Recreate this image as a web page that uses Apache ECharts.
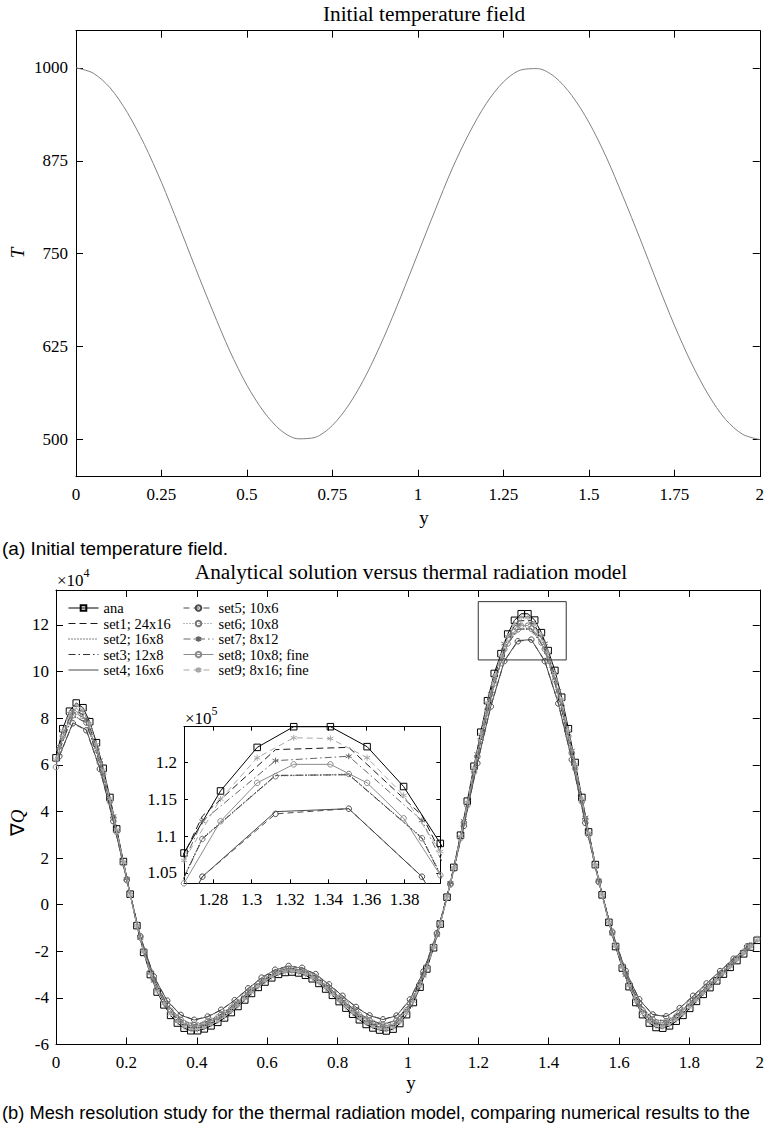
<!DOCTYPE html>
<html>
<head>
<meta charset="utf-8">
<script src="https://cdn.jsdelivr.net/npm/echarts@6/dist/echarts.min.js"></script>
<style>
html,body{margin:0;padding:0;background:#fff;}
#c{width:767px;height:1133px;}
</style>
</head>
<body>
<div id="c"></div>
<script>
// ---------- DATA ----------
// (a) initial temperature field
const topY = [0,0.05,0.1,0.15,0.2,0.25,0.3,0.35,0.4,0.45,0.5,0.55,0.6,0.65,0.7,0.75,0.8,0.85,0.9,0.95,1,1.05,1.1,1.15,1.2,1.25,1.3,1.35,1.4,1.45,1.5,1.55,1.6,1.65,1.7,1.75,1.8,1.85,1.9,1.95,2];
const topT = [1000,993,973,940,897,846,789,730,673,619,573,537,512,501,503,519,548,588,637,692,750,808,864,912,952,981,997,999,988,963,927,881,827,770,711,654,603,560,527,507,500];
const topXTicks = [0,0.25,0.5,0.75,1,1.25,1.5,1.75,2];
const topTTicks = [500,625,750,875,1000];

// (b) divergence of radiative flux, units of 1e4
const yFine = [0,0.0192,0.0383,0.0575,0.0766,0.0958,0.1150,0.1341,0.1533,0.1724,
0.1916,0.2108,0.2299,0.2491,0.2682,0.2874,0.3066,0.3257,0.3449,0.3640,
0.3832,0.4024,0.4215,0.4407,0.4598,0.4790,0.4982,0.5173,0.5365,0.5556,
0.5748,0.5940,0.6131,0.6323,0.6514,0.6706,0.6898,0.7089,0.7281,0.7472,
0.7664,0.7856,0.8047,0.8239,0.8430,0.8622,0.8814,0.9005,0.9197,0.9388,
0.9580,0.9772,0.9963,1.0155,1.0346,1.0538,1.0730,1.0921,1.1113,1.1304,
1.1496,1.1688,1.1879,1.2071,1.2262,1.2454,1.2646,1.2837,1.3029,1.3220,
1.3412,1.3604,1.3795,1.3987,1.4178,1.4370,1.4562,1.4753,1.4945,1.5136,
1.5328,1.5520,1.5711,1.5903,1.6094,1.6286,1.6478,1.6669,1.6861,1.7052,
1.7244,1.7436,1.7627,1.7819,1.8010,1.8202,1.8394,1.8585,1.8777,1.8968,
1.9160,1.9352,1.9543,1.9735,1.9926];
const yCoarse = [0.0096,0.0479,0.0862,0.1246,0.1629,0.2012,0.2395,0.2778,0.3162,0.3545,
0.3928,0.4311,0.4694,0.5078,0.5461,0.5844,0.6227,0.6610,0.6994,0.7377,
0.7760,0.8143,0.8526,0.8910,0.9293,0.9676,1.0059,1.0442,1.0826,1.1209,
1.1592,1.1975,1.2358,1.2742,1.3125,1.3508,1.3891,1.4274,1.4658,1.5041,
1.5424,1.5807,1.6190,1.6574,1.6957,1.7340,1.7723,1.8106,1.8490,1.8873,
1.9256,1.9639];

const anaQ = [6.30,7.55,8.30,8.65,8.45,7.85,6.95,5.85,4.60,3.25,
1.85,0.45,-0.90,-2.05,-3.00,-3.75,-4.30,-4.75,-5.08,-5.30,
-5.41,-5.41,-5.33,-5.20,-5.05,-4.86,-4.63,-4.37,-4.09,-3.81,
-3.55,-3.32,-3.14,-2.99,-2.91,-2.89,-2.93,-3.03,-3.18,-3.38,
-3.62,-3.89,-4.16,-4.44,-4.70,-4.94,-5.14,-5.29,-5.38,-5.42,
-5.34,-5.10,-4.72,-4.20,-3.54,-2.76,-1.85,-0.83,0.32,1.60,
2.98,4.44,5.94,7.40,8.75,9.92,10.77,11.61,12.20,12.48,
12.48,12.21,11.67,10.90,10.05,8.90,7.55,6.10,4.60,3.12,
1.72,0.42,-0.76,-1.80,-2.72,-3.52,-4.20,-4.72,-5.08,-5.27,
-5.30,-5.20,-5.00,-4.75,-4.45,-4.15,-3.85,-3.56,-3.27,-2.98,
-2.69,-2.40,-2.11,-1.82,-1.53];
const set1Q = [6.87,8.40,8.07,6.28,3.86,1.13,-1.45,-3.32,-4.45,-5.11,
-5.33,-5.18,-4.87,-4.42,-3.88,-3.38,-3.01,-2.84,-2.93,-3.22,
-3.69,-4.22,-4.73,-5.13,-5.31,-5.14,-4.39,-3.09,-1.32,0.94,
3.64,6.55,9.17,11.27,12.17,12.20,11.28,9.31,6.71,3.79,
1.05,-1.26,-3.06,-4.38,-5.09,-5.17,-4.79,-4.22,-3.64,-3.07,
-2.50,-1.93];
const set2Q = [6.66,8.13,7.82,6.09,3.74,1.09,-1.41,-3.21,-4.31,-4.95,
-5.17,-5.01,-4.72,-4.28,-3.76,-3.27,-2.92,-2.75,-2.84,-3.12,
-3.58,-4.09,-4.59,-4.97,-5.15,-4.98,-4.25,-2.99,-1.27,0.91,
3.53,6.35,8.88,10.97,11.82,11.83,10.98,9.02,6.50,3.67,
1.02,-1.22,-2.97,-4.25,-4.93,-5.01,-4.65,-4.09,-3.52,-2.97,
-2.42,-1.87];
const set3Q = [6.64,8.11,7.80,6.07,3.73,1.09,-1.40,-3.20,-4.29,-4.93,
-5.15,-5.00,-4.70,-4.27,-3.75,-3.26,-2.91,-2.74,-2.83,-3.11,
-3.57,-4.08,-4.57,-4.95,-5.13,-4.96,-4.24,-2.98,-1.27,0.91,
3.51,6.33,8.86,10.96,11.82,11.83,10.97,9.00,6.48,3.66,
1.02,-1.21,-2.96,-4.23,-4.91,-4.99,-4.63,-4.08,-3.51,-2.96,
-2.42,-1.86];
const set4Q = [6.38,7.80,7.50,5.84,3.58,1.05,-1.35,-3.08,-4.13,-4.74,
-4.95,-4.81,-4.52,-4.10,-3.60,-3.14,-2.80,-2.64,-2.72,-2.99,
-3.43,-3.92,-4.40,-4.76,-4.93,-4.77,-4.08,-2.87,-1.22,0.88,
3.38,6.08,8.52,10.45,11.33,11.37,10.45,8.65,6.23,3.52,
0.98,-1.17,-2.85,-4.07,-4.72,-4.80,-4.45,-3.92,-3.38,-2.85,
-2.33,-1.80];
const set5Q = [6.37,7.78,7.48,5.82,3.58,1.05,-1.35,-3.08,-4.12,-4.73,
-4.94,-4.80,-4.51,-4.10,-3.59,-3.13,-2.79,-2.63,-2.71,-2.98,
-3.42,-3.91,-4.39,-4.75,-4.92,-4.76,-4.07,-2.87,-1.22,0.87,
3.38,6.07,8.50,10.45,11.30,11.37,10.45,8.63,6.22,3.51,
0.97,-1.16,-2.84,-4.06,-4.71,-4.79,-4.44,-3.91,-3.38,-2.85,
-2.32,-1.79];
const set6Q = [6.65,8.12,7.81,6.08,3.73,1.09,-1.41,-3.21,-4.30,-4.94,
-5.16,-5.01,-4.71,-4.28,-3.75,-3.27,-2.92,-2.75,-2.83,-3.12,
-3.57,-4.09,-4.58,-4.96,-5.14,-4.97,-4.25,-2.99,-1.27,0.91,
3.52,6.34,8.87,10.96,11.81,11.84,10.97,9.01,6.49,3.67,
1.02,-1.22,-2.96,-4.24,-4.92,-5.00,-4.64,-4.09,-3.52,-2.97,
-2.42,-1.87];
const set7Q = [6.78,8.28,7.96,6.20,3.80,1.11,-1.43,-3.27,-4.39,-5.03,
-5.26,-5.10,-4.80,-4.36,-3.82,-3.33,-2.97,-2.80,-2.88,-3.18,
-3.64,-4.16,-4.67,-5.05,-5.24,-5.06,-4.33,-3.05,-1.30,0.93,
3.59,6.46,9.04,11.20,12.02,12.08,11.21,9.18,6.61,3.74,
1.04,-1.24,-3.02,-4.32,-5.01,-5.09,-4.72,-4.16,-3.59,-3.03,
-2.47,-1.91];
const set8Q = [5.90,7.23,7.95,8.29,8.10,7.52,6.66,5.60,4.41,3.11,
1.77,0.43,-0.86,-1.96,-2.87,-3.59,-4.12,-4.55,-4.87,-5.08,
-5.18,-5.18,-5.11,-4.98,-4.84,-4.66,-4.44,-4.19,-3.92,-3.65,
-3.40,-3.18,-3.01,-2.86,-2.79,-2.77,-2.81,-2.90,-3.05,-3.24,
-3.47,-3.73,-3.99,-4.25,-4.50,-4.73,-4.92,-5.07,-5.15,-5.19,
-5.12,-4.89,-4.52,-4.02,-3.39,-2.64,-1.77,-0.80,0.31,1.53,
2.85,4.25,5.69,7.09,8.38,9.50,10.36,11.20,11.72,11.97,
11.97,11.72,11.24,10.47,9.63,8.53,7.23,5.84,4.41,2.99,
1.65,0.40,-0.73,-1.72,-2.61,-3.37,-4.02,-4.52,-4.87,-5.05,
-5.08,-4.98,-4.79,-4.55,-4.26,-3.98,-3.69,-3.41,-3.13,-2.85,
-2.58,-2.30,-2.02,-1.74,-1.47];
const set9Q = [6.22,7.46,8.20,8.55,8.35,7.76,6.87,5.78,4.54,3.21,
1.83,0.44,-0.89,-2.03,-2.96,-3.71,-4.25,-4.69,-5.02,-5.24,
-5.35,-5.35,-5.27,-5.14,-4.99,-4.80,-4.57,-4.32,-4.04,-3.76,
-3.51,-3.28,-3.10,-2.95,-2.88,-2.86,-2.89,-2.99,-3.14,-3.34,
-3.58,-3.84,-4.11,-4.39,-4.64,-4.88,-5.08,-5.23,-5.32,-5.35,
-5.28,-5.04,-4.66,-4.15,-3.50,-2.73,-1.83,-0.82,0.32,1.58,
2.94,4.39,5.87,7.31,8.65,9.80,10.67,11.50,12.06,12.33,
12.32,12.06,11.55,10.79,9.93,8.79,7.46,6.03,4.54,3.08,
1.70,0.41,-0.75,-1.78,-2.69,-3.48,-4.15,-4.66,-5.02,-5.21,
-5.24,-5.14,-4.94,-4.69,-4.40,-4.10,-3.80,-3.52,-3.23,-2.94,
-2.66,-2.37,-2.08,-1.80,-1.51];

const seriesNames = ['ana','set1; 24x16','set2; 16x8','set3; 12x8','set4; 16x6','set5; 10x6','set6; 10x8','set7; 8x12','set8; 10x8; fine','set9; 8x16; fine'];
const mainXTicks = [0,0.2,0.4,0.6,0.8,1,1.2,1.4,1.6,1.8,2];
const mainQTicks = [-6,-4,-2,0,2,4,6,8,10,12];
const insetXTicks = [1.28,1.3,1.32,1.34,1.36,1.38];
const insetQTicks = [10.5,11,11.5,12];   // shown as 1.05 ... 1.2 (x1e5)
const zoomBoxX = [1.2,1.45,1.45,1.2,1.2];
const zoomBoxY = [10.5,10.5,13,13,10.5];

// ---------- CHART ----------
const SERIF = 'Liberation Serif';
const SANS = 'Liberation Sans';
const chart = echarts.init(document.getElementById('c'), null, {renderer:'svg'});

const STAR = 'path://M0,-10L0,10M-8.66,-5L8.66,5M-8.66,5L8.66,-5';
const styles = [
  {c:'#000000', t:'solid',        s:'rect',   ss:6.5},
  {c:'#1a1a1a', t:[7,4],          s:'none'},
  {c:'#000000', t:[1,2],          s:'none'},
  {c:'#333333', t:[7,3,1.5,3],    s:'none'},
  {c:'#4a4a4a', t:'solid',        s:'none'},
  {c:'#4a4a4a', t:[6,4],          s:'circle', ss:5.5},
  {c:'#777777', t:[1,2],          s:'circle', ss:5.5},
  {c:'#666666', t:[7,3,1.5,3],    s:STAR,     ss:6},
  {c:'#8c8c8c', t:'solid',        s:'circle', ss:5.5},
  {c:'#a8a8a8', t:[6,4],          s:STAR,     ss:6}
];
const xs = [yFine,yCoarse,yCoarse,yCoarse,yCoarse,yCoarse,yCoarse,yCoarse,yFine,yFine];
const qs = [anaQ,set1Q,set2Q,set3Q,set4Q,set5Q,set6Q,set7Q,set8Q,set9Q];

function mkSeries(i, xi, yi, zb) {
  const st = styles[i];
  return {
    type:'line', name: seriesNames[i], xAxisIndex:xi, yAxisIndex:yi,
    data: xs[i].map((x,k)=>[x, qs[i][k]]),
    symbol: st.s, symbolSize: st.ss || 0, showSymbol: st.s !== 'none',
    lineStyle: {color: st.c, width: 1, type: st.t},
    itemStyle: {color: 'rgba(255,255,255,0)', borderColor: st.c, borderWidth: 1},
    clip: true, silent: true, z: zb + i*0.01,
    emphasis: {disabled: true}
  };
}

function ax(extra) {
  return Object.assign({
    type:'value', splitLine:{show:false},
    axisLine:{show:true, onZero:false, lineStyle:{color:'#000', width:1}},
    axisTick:{show:true, inside:true, length:7, lineStyle:{color:'#000', width:1}},
    axisLabel:{show:true, color:'#000', fontFamily:SERIF, fontSize:17, formatter: v => String(v)}
  }, extra);
}
function withTicks(a, vals, showLabel, margin, fmt, tickLen) {
  a.axisTick = Object.assign({}, a.axisTick, {customValues: vals});
  if (tickLen) a.axisTick.length = tickLen;
  a.axisLabel = Object.assign({}, a.axisLabel, {customValues: vals, show: showLabel, margin: margin});
  if (fmt) a.axisLabel.formatter = fmt;
  return a;
}

const xAxes = [
  withTicks(ax({gridIndex:0, position:'bottom', min:0, max:2}), topXTicks, true, 9),
  withTicks(ax({gridIndex:0, position:'top', min:0, max:2}), topXTicks, false, 8),
  withTicks(ax({gridIndex:1, position:'bottom', min:0, max:2}), mainXTicks, true, 9),
  withTicks(ax({gridIndex:1, position:'top', min:0, max:2}), mainXTicks, false, 8),
  withTicks(ax({gridIndex:2, position:'bottom', min:1.2646, max:1.3987}), insetXTicks, true, 8, null, 4),
  withTicks(ax({gridIndex:2, position:'top', min:1.2646, max:1.3987}), insetXTicks, false, 8, null, 4)
];
const insetFmt = v => String(Math.round(v*100)/1000);
const yAxes = [
  withTicks(ax({gridIndex:0, position:'left', min:450, max:1050}), topTTicks, true, 8),
  withTicks(ax({gridIndex:0, position:'right', min:450, max:1050}), topTTicks, false, 8),
  withTicks(ax({gridIndex:1, position:'left', min:-6, max:13.5}), mainQTicks, true, 7),
  withTicks(ax({gridIndex:1, position:'right', min:-6, max:13.5}), mainQTicks, false, 7),
  withTicks(ax({gridIndex:2, position:'left', min:10.36, max:12.48}), insetQTicks, true, 7, insetFmt, 4),
  withTicks(ax({gridIndex:2, position:'right', min:10.36, max:12.48}), insetQTicks, false, 7, null, 4)
];

const series = [];
series.push({
  type:'line', name:'T0', xAxisIndex:0, yAxisIndex:0,
  data: topY.map((x,k)=>[x, topT[k]]), smooth:0.3, showSymbol:false, symbol:'none',
  lineStyle:{color:'#808080', width:1}, silent:true
});
for (let i=0;i<10;i++) series.push(mkSeries(i, 2, 2, 2));
series.push({
  type:'line', name:'zoombox', xAxisIndex:2, yAxisIndex:2,
  data: zoomBoxX.map((x,k)=>[x, zoomBoxY[k]]), symbol:'none', showSymbol:false,
  lineStyle:{color:'#333', width:1}, silent:true, z:5
});
for (let i=0;i<10;i++) series.push(mkSeries(i, 4, 4, 6));

const noSym = {color:'rgba(0,0,0,0)', borderColor:'rgba(0,0,0,0)', borderWidth:0};
function legendItems(a, b) {
  const out = [];
  for (let i=a;i<b;i++) {
    out.push(styles[i].s === 'none' ? {name: seriesNames[i], itemStyle: noSym} : {name: seriesNames[i]});
  }
  return out;
}
const legendText = {fontFamily:SERIF, fontSize:14.5, lineHeight:15, color:'#000'};
const legendBase = {orient:'vertical', itemWidth:30, itemHeight:7, itemGap:0.5, padding:0,
  textStyle:legendText, selectedMode:false, lineStyle:{width:1}};

const graphics = [
  {type:'text', x:424, y:14, style:{text:'Initial temperature field', fontFamily:SERIF, fontSize:21.3, fill:'#000', align:'center', verticalAlign:'middle'}},
  {type:'text', x:424, y:517, style:{text:'y', fontFamily:SERIF, fontSize:19, fill:'#000', align:'center', verticalAlign:'middle'}},
  {type:'text', x:17, y:253, rotation:Math.PI/2, style:{text:'T', fontFamily:SERIF, fontStyle:'italic', fontSize:19, fill:'#000', align:'center', verticalAlign:'middle'}},
  {type:'text', x:2, y:548, style:{text:'(a) Initial temperature field.', fontFamily:SANS, fontSize:19, fill:'#000', align:'left', verticalAlign:'middle'}},
  {type:'text', x:411, y:572, style:{text:'Analytical solution versus thermal radiation model', fontFamily:SERIF, fontSize:21.3, fill:'#000', align:'center', verticalAlign:'middle'}},
  {type:'text', x:57, y:580, style:{text:'×10', fontFamily:SERIF, fontSize:17, fill:'#000', align:'left', verticalAlign:'middle'}},
  {type:'text', x:83.5, y:573, style:{text:'4', fontFamily:SERIF, fontSize:12, fill:'#000', align:'left', verticalAlign:'middle'}},
  {type:'text', x:17, y:823, rotation:Math.PI/2, style:{text:'{a|∇}{b|Q}', rich:{a:{fontFamily:SERIF, fontSize:19, fill:'#000'}, b:{fontFamily:SERIF, fontStyle:'italic', fontSize:19, fill:'#000'}}, align:'center', verticalAlign:'middle'}},
  {type:'text', x:185, y:718, style:{text:'×10', fontFamily:SERIF, fontSize:17, fill:'#000', align:'left', verticalAlign:'middle'}},
  {type:'text', x:211.5, y:711, style:{text:'5', fontFamily:SERIF, fontSize:12, fill:'#000', align:'left', verticalAlign:'middle'}},
  {type:'text', x:411, y:1082, style:{text:'y', fontFamily:SERIF, fontSize:19, fill:'#000', align:'center', verticalAlign:'middle'}},
  {type:'text', x:2, y:1112, style:{text:'(b) Mesh resolution study for the thermal radiation model, comparing numerical results to the', fontFamily:SANS, fontSize:18.3, fill:'#000', align:'left', verticalAlign:'middle'}}
];

chart.setOption({
  backgroundColor:'#fff',
  animation:false,
  grid:[
    {left:76, top:30.7, width:696, height:446},
    {left:56, top:590, width:709.5, height:454.5},
    {left:184, top:726.7, width:256.3, height:156.6, show:true, backgroundColor:'#fff', borderWidth:0}
  ],
  xAxis: xAxes,
  yAxis: yAxes,
  legend:[
    Object.assign({}, legendBase, {left:68, top:600.5, data:legendItems(0,5)}),
    Object.assign({}, legendBase, {left:183, top:600.5, data:legendItems(5,10)})
  ],
  series: series,
  graphic: graphics
});
</script>
</body>
</html>
